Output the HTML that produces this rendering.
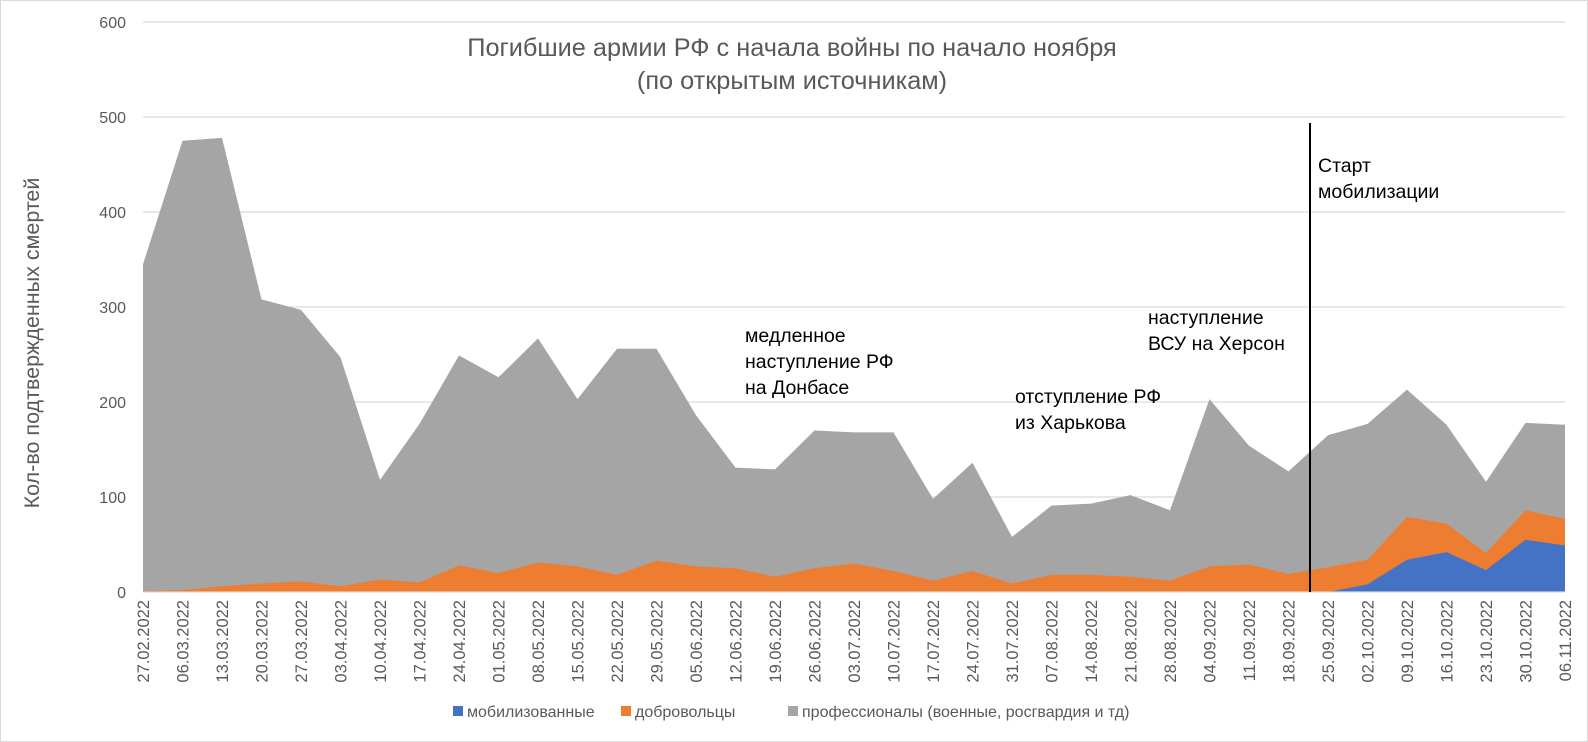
<!DOCTYPE html>
<html><head><meta charset="utf-8"><style>
html,body{margin:0;padding:0;background:#fff;}
svg{display:block;font-family:"Liberation Sans","DejaVu Sans",sans-serif;}
</style></head><body>
<svg id="s" width="1588" height="742" viewBox="0 0 1588 742" xmlns="http://www.w3.org/2000/svg">
<rect x="0.5" y="0.5" width="1587" height="741" fill="#fff" stroke="#d9d9d9"/>
<g stroke="#d9d9d9" stroke-width="1.3">
<line x1="143" x2="1565" y1="22" y2="22"/><line x1="143" x2="1565" y1="117" y2="117"/>
<line x1="143" x2="1565" y1="212" y2="212"/><line x1="143" x2="1565" y1="307" y2="307"/>
<line x1="143" x2="1565" y1="402" y2="402"/><line x1="143" x2="1565" y1="497" y2="497"/>
</g>
<g font-size="16" fill="#595959" text-anchor="end">
<text x="126" y="28">600</text><text x="126" y="123">500</text><text x="126" y="218">400</text>
<text x="126" y="313">300</text><text x="126" y="408">200</text><text x="126" y="503">100</text><text x="126" y="598">0</text>
</g>
<g id="areas"></g>
<line x1="143" x2="1565" y1="592" y2="592" stroke="#d9d9d9" stroke-width="1.3"/>
<line x1="1310" x2="1310" y1="123" y2="592" stroke="#000" stroke-width="2"/>
<text x="39" y="343" font-size="21.5" fill="#595959" text-anchor="middle" transform="rotate(-90 39 343)">Кол-во подтвержденных смертей</text>
<g font-size="25.3" fill="#595959" text-anchor="middle">
<text x="792" y="56">Погибшие армии РФ с начала войны по начало ноября</text>
<text x="792" y="89">(по открытым источникам)</text>
</g>
<g font-size="19.5" fill="#000">
<text x="745" y="342">медленное</text><text x="745" y="368">наступление РФ</text><text x="745" y="394">на Донбасе</text>
<text x="1015" y="403">отступление РФ</text><text x="1015" y="429">из Харькова</text>
<text x="1148" y="324">наступление</text><text x="1148" y="350">ВСУ на Херсон</text>
<text x="1318" y="172">Старт</text><text x="1318" y="198">мобилизации</text>
</g>
<g font-size="16.5" fill="#595959" text-anchor="end" id="xl">
<text transform="translate(149 600) rotate(-90)">27.02.2022</text>
<text transform="translate(188.5 600) rotate(-90)">06.03.2022</text>
<text transform="translate(228 600) rotate(-90)">13.03.2022</text>
<text transform="translate(267.5 600) rotate(-90)">20.03.2022</text>
<text transform="translate(307 600) rotate(-90)">27.03.2022</text>
<text transform="translate(346.5 600) rotate(-90)">03.04.2022</text>
<text transform="translate(386 600) rotate(-90)">10.04.2022</text>
<text transform="translate(425.5 600) rotate(-90)">17.04.2022</text>
<text transform="translate(465 600) rotate(-90)">24.04.2022</text>
<text transform="translate(504.5 600) rotate(-90)">01.05.2022</text>
<text transform="translate(544 600) rotate(-90)">08.05.2022</text>
<text transform="translate(583.5 600) rotate(-90)">15.05.2022</text>
<text transform="translate(623 600) rotate(-90)">22.05.2022</text>
<text transform="translate(662.5 600) rotate(-90)">29.05.2022</text>
<text transform="translate(702 600) rotate(-90)">05.06.2022</text>
<text transform="translate(741.5 600) rotate(-90)">12.06.2022</text>
<text transform="translate(781 600) rotate(-90)">19.06.2022</text>
<text transform="translate(820.5 600) rotate(-90)">26.06.2022</text>
<text transform="translate(860 600) rotate(-90)">03.07.2022</text>
<text transform="translate(899.5 600) rotate(-90)">10.07.2022</text>
<text transform="translate(939 600) rotate(-90)">17.07.2022</text>
<text transform="translate(978.5 600) rotate(-90)">24.07.2022</text>
<text transform="translate(1018 600) rotate(-90)">31.07.2022</text>
<text transform="translate(1057.5 600) rotate(-90)">07.08.2022</text>
<text transform="translate(1097 600) rotate(-90)">14.08.2022</text>
<text transform="translate(1136.5 600) rotate(-90)">21.08.2022</text>
<text transform="translate(1176 600) rotate(-90)">28.08.2022</text>
<text transform="translate(1215.5 600) rotate(-90)">04.09.2022</text>
<text transform="translate(1255 600) rotate(-90)">11.09.2022</text>
<text transform="translate(1294.5 600) rotate(-90)">18.09.2022</text>
<text transform="translate(1334 600) rotate(-90)">25.09.2022</text>
<text transform="translate(1373.5 600) rotate(-90)">02.10.2022</text>
<text transform="translate(1413 600) rotate(-90)">09.10.2022</text>
<text transform="translate(1452.5 600) rotate(-90)">16.10.2022</text>
<text transform="translate(1492 600) rotate(-90)">23.10.2022</text>
<text transform="translate(1531.5 600) rotate(-90)">30.10.2022</text>
<text transform="translate(1571 600) rotate(-90)">06.11.2022</text>
</g>
<g font-size="16" fill="#595959">
<rect x="453" y="706" width="10" height="10" fill="#4472c4"/><text x="467" y="717">мобилизованные</text>
<rect x="621" y="706" width="10" height="10" fill="#ed7d31"/><text x="635" y="717">добровольцы</text>
<rect x="788" y="706" width="10" height="10" fill="#a5a5a5"/><text x="802" y="717">профессионалы (военные, росгвардия и тд)</text>
</g>
</svg>
<script>
var tot=[345,475,478,308,297,247,118,177,249,226,267,203,256,256,186,131,129,170,168,168,98,136,58,91,93,102,86,203,154,127,165,177,213,176,116,178,176];
var org=[1,2,6,9,11,6,13,10,28,20,31,27,18,33,27,25,16,25,30,22,12,22,9,18,18,16,12,27,29,19,26,34,79,72,41,86,77];
var blu=[0,0,0,0,0,0,0,0,0,0,0,0,0,0,0,0,0,0,0,0,0,0,0,0,0,0,0,0,0,0,0,8,34,42,23,55,49];
function X(i){return 143+39.5*i;}function Y(v){return 592-0.95*v;}
function poly(a,c){var p=[X(0)+","+592];for(var i=0;i<a.length;i++)p.push(X(i).toFixed(1)+","+Y(a[i]).toFixed(1));p.push(X(a.length-1)+",592");
var e=document.createElementNS("http://www.w3.org/2000/svg","polygon");e.setAttribute("points",p.join(" "));e.setAttribute("fill",c);document.getElementById("areas").appendChild(e);}
poly(tot,"#a5a5a5");poly(org,"#ed7d31");poly(blu,"#4472c4");
</script>
</body></html>
